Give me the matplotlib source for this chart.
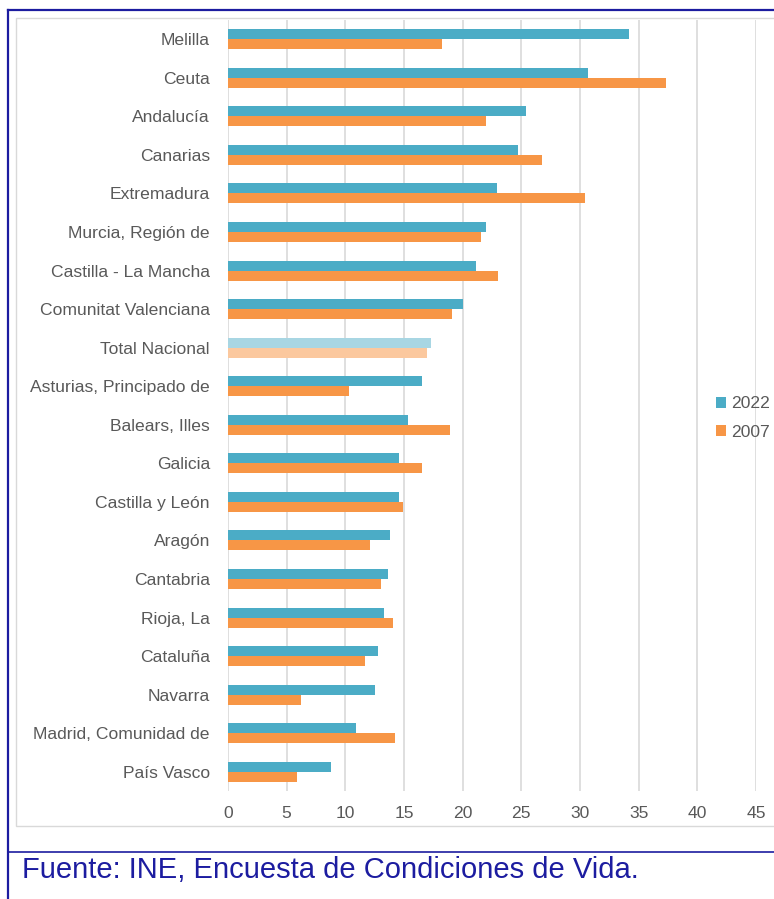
import numpy as np
import matplotlib.pyplot as plt
from matplotlib.patches import Rectangle
from matplotlib.lines import Line2D

regions = ["Melilla", "Ceuta", "Andalucía", "Canarias", "Extremadura",
           "Murcia, Región de", "Castilla - La Mancha", "Comunitat Valenciana",
           "Total Nacional", "Asturias, Principado de", "Balears, Illes",
           "Galicia", "Castilla y León", "Aragón", "Cantabria", "Rioja, La",
           "Cataluña", "Navarra", "Madrid, Comunidad de", "País Vasco"]
v2022 = [34.2, 30.7, 25.4, 24.7, 22.9, 22.0, 21.1, 20.0, 17.3, 16.5,
         15.3, 14.6, 14.6, 13.8, 13.6, 13.3, 12.8, 12.5, 10.9, 8.8]
v2007 = [18.2, 37.3, 22.0, 26.8, 30.4, 21.6, 23.0, 19.1, 17.0, 10.3,
         18.9, 16.5, 14.9, 12.1, 13.0, 14.1, 11.7, 6.2, 14.2, 5.9]
xticks = [0, 5, 10, 15, 20, 25, 30, 35, 40, 45]

c22, c07 = "#4BACC6", "#F79646"
c22_light, c07_light = "#A8D6E3", "#FBC89E"
navy = "#1C1CA0"
plt.rcParams["font.family"] = ["Liberation Sans", "DejaVu Sans"]

fig = plt.figure(figsize=(7.74, 8.99), dpi=100)
W, H = 774, 899

# chart frame and page borders
fig.patches.append(Rectangle((16 / W, 1 - 826 / H), (775 - 16) / W, (826 - 18) / H,
                             transform=fig.transFigure, fill=False,
                             edgecolor="#D9D9D9", linewidth=1))
fig.lines.append(Line2D([8 / W, 8 / W], [0, 1 - 10 / H], transform=fig.transFigure,
                        color=navy, linewidth=1.6))
fig.lines.append(Line2D([8 / W, 1], [1 - 10 / H, 1 - 10 / H], transform=fig.transFigure,
                        color=navy, linewidth=1.6))
fig.lines.append(Line2D([8 / W, 1], [1 - 852 / H, 1 - 852 / H], transform=fig.transFigure,
                        color=navy, linewidth=1.2))

ax = fig.add_axes([228 / W, 1 - 791 / H, (756 - 228) / W, (791 - 20) / H])

y = np.arange(len(regions))
h = 0.26
cols22 = [c22_light if r == "Total Nacional" else c22 for r in regions]
cols07 = [c07_light if r == "Total Nacional" else c07 for r in regions]
ax.barh(y - h / 2, v2022, height=h, color=cols22, label="2022", zorder=3)
ax.barh(y + h / 2, v2007, height=h, color=cols07, label="2007", zorder=3)

ax.set_ylim(len(regions) - 0.5, -0.5)
ax.set_xlim(0, 45)
ax.set_yticks(y)
ax.set_yticklabels(regions, fontsize=12.6, color="#595959")
ax.set_xticks(xticks)
ax.set_xticklabels([str(t) for t in xticks], fontsize=12.6, color="#595959")
ax.tick_params(axis="both", length=0)
ax.tick_params(axis="y", pad=13)
ax.tick_params(axis="x", pad=11)
ax.grid(axis="x", color="#D9D9D9", linewidth=1.2, zorder=0)
for s in ax.spines.values():
    s.set_visible(False)

ax.legend(loc="center left", bbox_to_anchor=(700 / W, 1 - 418 / H),
          bbox_transform=fig.transFigure, frameon=False, fontsize=12.6,
          handlelength=0.6, handleheight=0.6, handletextpad=0.3,
          labelspacing=0.75, labelcolor="#595959")

fig.text(22 / W, 1 - 870 / H, "Fuente: INE, Encuesta de Condiciones de Vida.",
         fontsize=21, color=navy, va="center", ha="left")

plt.savefig("out.png", dpi=100)
